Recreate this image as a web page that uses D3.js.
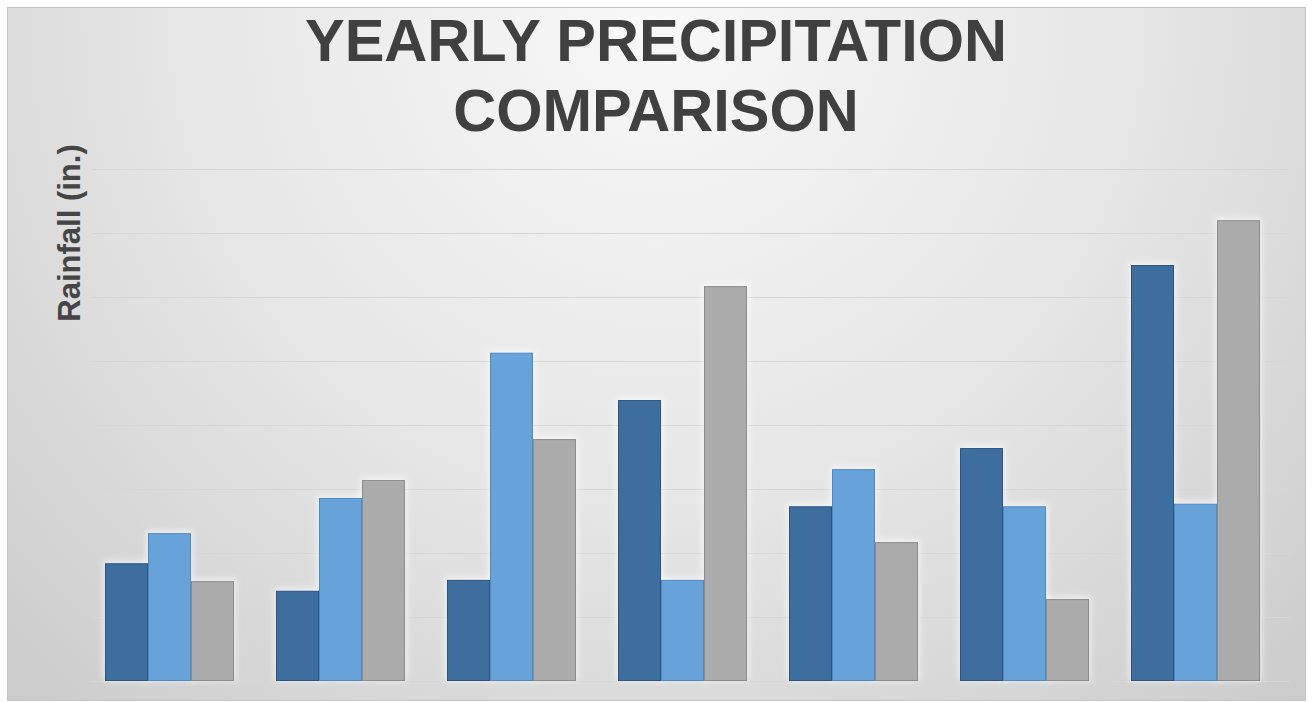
<!DOCTYPE html>
<html>
<head>
<meta charset="utf-8">
<script src="https://cdn.jsdelivr.net/npm/d3@7"></script>
<style>
  html, body { margin: 0; padding: 0; background: #ffffff; }
  svg { display: block; }
</style>
</head>
<body>
<svg id="chart" width="1315" height="702"></svg>
<script>
// Yearly rainfall per location, three series (inches)
const categories = ["A", "B", "C", "D", "E", "F", "G"];
const seriesNames = ["Year 1", "Year 2", "Year 3"];
const year1 = [18.4, 14.1, 15.8, 43.9, 27.3, 36.4, 65.0];
const year2 = [23.1, 28.6, 51.3, 15.8, 33.1, 27.3, 27.7];
const year3 = [15.6, 31.4, 37.8, 61.7, 21.7, 12.8, 72.0];
const yTicks = [0, 10, 20, 30, 40, 50, 60, 70, 80];

const seriesValues = [year1, year2, year3];
const fills = ["#3e6e9e", "#67a3d9", "#ababab"];
const strokes = ["#2d5580", "#4d89c2", "#8c8c8c"];

const W = 1315, H = 702;
const svg = d3.select("#chart");
const defs = svg.append("defs");

// soft light backdrop, brightest near the top centre
const bg = defs.append("radialGradient")
  .attr("id", "bgGrad")
  .attr("gradientUnits", "userSpaceOnUse")
  .attr("cx", 657).attr("cy", 20).attr("r", 960)
  .attr("fx", 657).attr("fy", 20);
bg.append("stop").attr("offset", "0%").attr("stop-color", "#f8f8f8");
bg.append("stop").attr("offset", "50%").attr("stop-color", "#e6e6e6");
bg.append("stop").attr("offset", "100%").attr("stop-color", "#cacaca");

// faint white halo behind each bar
const glow = defs.append("filter").attr("id", "glow")
  .attr("x", "-30%").attr("y", "-10%").attr("width", "160%").attr("height", "120%");
glow.append("feGaussianBlur").attr("stdDeviation", 3);

svg.append("rect")
  .attr("x", 7.5).attr("y", 7.5)
  .attr("width", 1298).attr("height", 693)
  .attr("fill", "url(#bgGrad)")
  .attr("stroke", "#c4c4c4").attr("stroke-width", 1);

const plot = { left: 84, right: 1281, top: 169, bottom: 681 };

const x0 = d3.scaleBand()
  .domain(categories)
  .range([plot.left, plot.right])
  .paddingInner(0.2456)
  .paddingOuter(0.1228);

const x1 = d3.scaleBand()
  .domain(seriesNames)
  .range([0, x0.bandwidth()]);

const y = d3.scaleLinear()
  .domain([0, 80])
  .range([plot.bottom, plot.top]);

// horizontal gridlines, no tick labels
const grid = d3.axisLeft(y)
  .tickValues(yTicks)
  .tickSize(-(1290 - 92))
  .tickFormat("");
const gridG = svg.append("g")
  .attr("transform", `translate(92,0)`)
  .call(grid);
gridG.select(".domain").remove();
gridG.selectAll(".tick line")
  .attr("stroke", "#d6d6d6")
  .attr("stroke-width", 1.2);

// grouped bars
const groups = svg.append("g")
  .selectAll("g")
  .data(categories)
  .join("g")
  .attr("transform", d => `translate(${x0(d)},0)`);

const barData = (d, i) => seriesNames.map((s, k) => ({ s, k, v: seriesValues[k][i] }));

groups.selectAll("rect.halo")
  .data(barData)
  .join("rect")
  .attr("class", "halo")
  .attr("x", d => x1(d.s) - 2)
  .attr("y", d => y(d.v) - 3)
  .attr("width", x1.bandwidth() + 4)
  .attr("height", d => y(0) - y(d.v) + 3)
  .attr("fill", "#ffffff")
  .attr("opacity", 0.55)
  .attr("filter", "url(#glow)");

groups.selectAll("rect.bar")
  .data(barData)
  .join("rect")
  .attr("class", "bar")
  .attr("x", d => x1(d.s) + 0.5)
  .attr("y", d => y(d.v) + 0.5)
  .attr("width", x1.bandwidth() - 1)
  .attr("height", d => y(0) - y(d.v) - 1)
  .attr("fill", d => fills[d.k])
  .attr("stroke", d => strokes[d.k])
  .attr("stroke-width", 1);

// title
const title = svg.append("text")
  .attr("text-anchor", "middle")
  .attr("font-family", "'Liberation Sans', Arial, sans-serif")
  .attr("font-weight", "bold")
  .attr("font-size", 59.5)
  .attr("fill", "#404040");
title.append("tspan").attr("x", 656).attr("y", 61).text("YEARLY PRECIPITATION");
title.append("tspan").attr("x", 656).attr("y", 131).text("COMPARISON");

// y-axis title
svg.append("text")
  .attr("transform", `translate(80,233) rotate(-90)`)
  .attr("text-anchor", "middle")
  .attr("font-family", "'Liberation Sans', Arial, sans-serif")
  .attr("font-weight", "bold")
  .attr("font-size", 31)
  .attr("fill", "#454545")
  .text("Rainfall (in.)");
</script>
</body>
</html>
